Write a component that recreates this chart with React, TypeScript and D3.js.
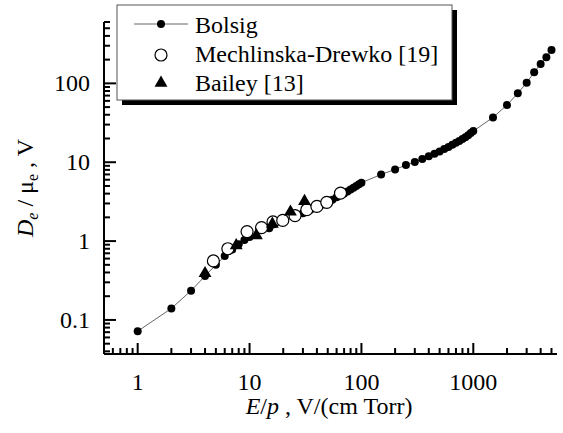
import React from 'react';
import { scaleLog, line, symbol, symbolTriangle } from 'd3';

// Bolsig calculation
const bolsigEp = [1, 2, 3, 4, 5, 6, 7, 8, 9, 10,
  15, 20, 25, 30, 35, 40, 45, 50, 55, 60, 65, 70, 75, 80, 85, 90, 95, 100,
  150, 200, 250, 300, 350, 400, 450, 500, 550, 600, 650, 700, 750, 800, 850, 900, 950, 1000,
  1500, 2000, 2500, 3000, 3500, 4000, 4500, 5000];
const bolsigDe = [0.072, 0.14, 0.235, 0.36, 0.5, 0.645, 0.78, 0.91, 1.03, 1.13,
  1.45, 1.75, 2.0, 2.25, 2.5, 2.7, 2.9, 3.1, 3.35, 3.6, 3.8, 4.0, 4.25, 4.5, 4.75, 5.0, 5.25, 5.5,
  7.0, 8.1, 9.2, 10.1, 11.0, 11.9, 12.8, 13.7, 14.7, 15.6, 16.6, 17.6, 18.6, 19.7, 20.8, 22.0, 23.4, 24.8,
  37, 53, 75, 102, 138, 176, 214, 265];

// Mechlinska-Drewko [19]
const mechEp = [4.75, 6.4, 9.5, 12.8, 16.2, 19.8, 25.5, 32.5, 40, 49, 65];
const mechDe = [0.56, 0.8, 1.32, 1.48, 1.75, 1.83, 2.1, 2.5, 2.75, 3.1, 4.05];

// Bailey [13]
const baileyEp = [4.0, 7.6, 11.5, 16, 23.2, 31];
const baileyDe = [0.39, 0.88, 1.18, 1.65, 2.35, 3.2];

const xTickLabels = [1, 10, 100, 1000];
const yTickLabels = [0.1, 1, 10, 100];

const W = 563, H = 433;

export default function App() {
  const x = scaleLog().domain([0.5, 5600]).range([104, 557]);
  const y = scaleLog().domain([0.037, 600]).range([354, 22]);

  const isMajor = (v: number) => Math.abs(Math.log10(v) - Math.round(Math.log10(v))) < 1e-6;

  const bolsig = bolsigEp.map((e, i) => [e, bolsigDe[i]]);
  const mech = mechEp.map((e, i) => [e, mechDe[i]]);
  const bailey = baileyEp.map((e, i) => [e, baileyDe[i]]);

  const path = line<number[]>().x(d => x(d[0])).y(d => y(d[1]))(bolsig) || '';
  const tri = symbol().type(symbolTriangle).size(72)() || '';

  const x0 = x.range()[0], yb = y.range()[0];

  return (
    <svg className="chart" width={W} height={H} style={{ position: 'absolute', left: 0, top: 0, background: '#fff' }}>
      <style>{`.chart text { font-family: Liberation Serif, Times, serif !important; fill: #000; }`}</style>

      {/* data */}
      <path d={path} fill="none" stroke="#666" strokeWidth={1} />
      {bolsig.map((d, i) => (
        <circle key={'b' + i} cx={x(d[0])} cy={y(d[1])} r={4} fill="#000" />
      ))}
      {mech.map((d, i) => (
        <circle key={'m' + i} cx={x(d[0])} cy={y(d[1])} r={6} fill="#fff" stroke="#000" strokeWidth={1.2} />
      ))}
      {bailey.map((d, i) => (
        <path key={'t' + i} d={tri} transform={`translate(${x(d[0])},${y(d[1])})`} fill="#000" />
      ))}

      {/* x axis */}
      <line x1={x0} x2={557} y1={yb} y2={yb} stroke="#000" strokeWidth={2} />
      {x.ticks().map((t, i) => (
        <line key={'xt' + i} x1={x(t)} x2={x(t)} y1={yb} y2={yb - (isMajor(t) ? 11 : 6)} stroke="#000" strokeWidth={2} />
      ))}
      {xTickLabels.map(t => (
        <text key={'xl' + t} x={x(t)} y={390} fontSize={24} textAnchor="middle">{t}</text>
      ))}
      <text x={329} y={414} fontSize={24} textAnchor="middle">
        <tspan fontStyle="italic">E</tspan>/<tspan fontStyle="italic">p</tspan> , V/(cm Torr)
      </text>

      {/* y axis */}
      <line x1={x0} x2={x0} y1={22} y2={yb} stroke="#000" strokeWidth={2} />
      {y.ticks().map((t, i) => (
        <line key={'yt' + i} x1={x0} x2={x0 + (isMajor(t) ? 12 : 6)} y1={y(t)} y2={y(t)} stroke="#000" strokeWidth={2} />
      ))}
      {yTickLabels.map(t => (
        <text key={'yl' + t} x={90} y={y(t) + 8} fontSize={24} textAnchor="end">{t}</text>
      ))}
      <text transform="translate(33,188) rotate(-90)" fontSize={24} textAnchor="middle">
        <tspan fontStyle="italic">D</tspan>
        <tspan fontStyle="italic" fontSize={16} dy={5}>e</tspan>
        <tspan dy={-5}> / μ</tspan>
        <tspan fontSize={16} dy={5}>e</tspan>
        <tspan dy={-5}> , V</tspan>
      </text>

      {/* legend */}
      <rect x={122} y={10} width={335} height={95} fill="#000" />
      <rect x={117} y={5} width={335} height={95} fill="#fff" stroke="#555" strokeWidth={1} />
      <line x1={134} x2={188} y1={24} y2={24} stroke="#666" strokeWidth={1} />
      <circle cx={161} cy={24} r={4} fill="#000" />
      <circle cx={161} cy={55} r={6} fill="#fff" stroke="#000" strokeWidth={1.2} />
      <path d={tri} transform="translate(161,83)" fill="#000" />
      <text x={195} y={33} fontSize={24}>Bolsig</text>
      <text x={195} y={62} fontSize={24}>Mechlinska-Drewko [19]</text>
      <text x={195} y={91} fontSize={24}>Bailey [13]</text>
    </svg>
  );
}
